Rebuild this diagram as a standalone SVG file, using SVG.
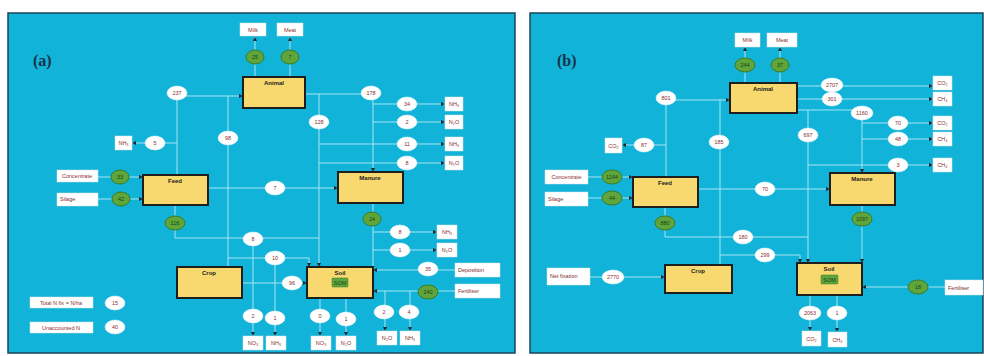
<svg xmlns="http://www.w3.org/2000/svg" width="984" height="356" viewBox="0 0 984 356">
<style>
.frame{fill:#12b3d9;stroke:#1b4459;stroke-width:1.5}
.pool{fill:#f8d96f;stroke:#1e1e1e;stroke-width:2}
.em{fill:#ffffff;stroke:#cfe3e9;stroke-width:.5}
.val{fill:#ffffff;stroke:#e8f4f7;stroke-width:.5}
.g{fill:#5ea63c;stroke:#3b7a26;stroke-width:1}
.som{fill:#5ea63c;stroke:#3b7a26;stroke-width:.5}
.ln{fill:none;stroke:#a6e6f3;stroke-width:1}
.ar{marker-end:url(#arr)}
text{font-family:"Liberation Sans",Arial,sans-serif;text-anchor:middle}
.t{font-size:5.5px;fill:#8a2e2e}
.tb{font-size:6px;fill:#1a1a1a;font-weight:bold}
.tg{font-size:5.5px;fill:#1f3d10}
.tl{font-size:5.5px;fill:#7a2a2a;text-anchor:start}
.pl{font-size:16px;font-weight:bold;fill:#17324a;text-anchor:start;font-family:"Liberation Serif",serif}
</style>
<defs>
<marker id="arr" markerWidth="4" markerHeight="4" refX="4" refY="2" orient="auto" markerUnits="userSpaceOnUse">
<path d="M0,0 L4,2 L0,4 z" fill="#1a2a30"/>
</marker>
</defs>
<rect x="0" y="0" width="984" height="356" fill="#ffffff"/>
<rect class="frame" x="8" y="13" width="507" height="340"/>
<rect class="frame" x="530" y="13" width="453" height="340"/>
<text class="pl" x="33" y="66">(a)</text>
<text class="pl" x="557" y="66">(b)</text>

<g id="connectors-a">
<path class="ln" d="M255,77 V64"/><path class="ln ar" d="M255,50 V37"/>
<path class="ln" d="M290,77 V64"/><path class="ln ar" d="M290,50 V37"/>
<path class="ln ar" d="M177,175 V96 H243"/>
<path class="ln" d="M228,267 V96"/>
<path class="ln ar" d="M177,143 H132"/>
<path class="ln ar" d="M98,177 H143"/>
<path class="ln ar" d="M98,199 H143"/>
<path class="ln" d="M175,205 V238 H319"/>
<path class="ln ar" d="M253,238 V336"/>
<path class="ln ar" d="M208,188 H338"/>
<path class="ln ar" d="M305,94 H373 V172"/>
<path class="ln ar" d="M319,94 V267"/>
<path class="ln ar" d="M373,104 H445"/>
<path class="ln ar" d="M373,122 H445"/>
<path class="ln ar" d="M319,144 H445"/>
<path class="ln ar" d="M319,163 H445"/>
<path class="ln ar" d="M242,283 H307"/>
<path class="ln ar" d="M228,258 H309 V267"/>
<path class="ln ar" d="M275,258 V336"/>
<path class="ln" d="M373,203 V267"/>
<path class="ln ar" d="M373,232 H437"/>
<path class="ln ar" d="M373,250 H437"/>
<path class="ln ar" d="M320,298 V336"/>
<path class="ln ar" d="M346,298 V336"/>
<path class="ln ar" d="M455,270 H373"/>
<path class="ln ar" d="M455,291 H373"/>
<path class="ln ar" d="M385,291 V331"/>
<path class="ln ar" d="M410,291 V331"/>
</g>

<g id="connectors-b">
<path class="ln" d="M745,83 V72"/><path class="ln ar" d="M745,58 V47"/>
<path class="ln" d="M780,83 V72"/><path class="ln ar" d="M780,58 V47"/>
<path class="ln ar" d="M666,177 V100 H730"/>
<path class="ln" d="M720,265 V100"/>
<path class="ln ar" d="M666,145 H622"/>
<path class="ln ar" d="M588,177 H633"/>
<path class="ln ar" d="M588,198 H633"/>
<path class="ln ar" d="M797,86 H933"/>
<path class="ln ar" d="M797,99 H933"/>
<path class="ln ar" d="M797,110 H862 V173"/>
<path class="ln ar" d="M862,123 H933"/>
<path class="ln ar" d="M862,139 H933"/>
<path class="ln ar" d="M808,110 V263"/>
<path class="ln ar" d="M808,165 H933"/>
<path class="ln" d="M665,207 V237 H808"/>
<path class="ln ar" d="M698,189 H830"/>
<path class="ln ar" d="M862,205 V263"/>
<path class="ln ar" d="M720,255 H800 V263"/>
<path class="ln ar" d="M590,277 H665"/>
<path class="ln ar" d="M810,295 V331"/>
<path class="ln ar" d="M837,295 V332"/>
<path class="ln ar" d="M945,287 H862"/>
</g>

<!-- panel a nodes -->
<g id="a-milk"><rect class="em" x="240" y="23" width="26" height="13"/><text class="t" x="253" y="31.5">Milk</text></g>
<g id="a-meat"><rect class="em" x="277" y="23" width="26" height="13"/><text class="t" x="290" y="31.5">Meat</text></g>
<g id="a-milk-v"><ellipse class="g" cx="255" cy="57" rx="9" ry="7"/><text class="tg" x="255" y="59">25</text></g>
<g id="a-meat-v"><ellipse class="g" cx="290" cy="57" rx="9" ry="7"/><text class="tg" x="290" y="59">7</text></g>
<g id="a-animal"><rect class="pool" x="243" y="77" width="62" height="31"/><text class="tb" x="274" y="85">Animal</text></g>
<g id="a-feed"><rect class="pool" x="143" y="175" width="65" height="30"/><text class="tb" x="175" y="183">Feed</text></g>
<g id="a-manure"><rect class="pool" x="338" y="172" width="65" height="31"/><text class="tb" x="370" y="180">Manure</text></g>
<g id="a-crop"><rect class="pool" x="177" y="267" width="65" height="31"/><text class="tb" x="209" y="275">Crop</text></g>
<g id="a-soil"><rect class="pool" x="307" y="267" width="66" height="31"/><text class="tb" x="340" y="275">Soil</text><rect class="som" x="332" y="278" width="16" height="9" rx="1"/><text class="tg" x="340" y="284.5">SOM</text></g>
<g id="a-conc"><rect class="em" x="57" y="170" width="41" height="12"/><text class="t" x="77" y="178">Concentrate</text></g>
<g id="a-silage"><rect class="em" x="57" y="193" width="41" height="13"/><text class="tl" x="60" y="201">Silage</text></g>
<g id="a-conc-v"><ellipse class="g" cx="120" cy="177" rx="9" ry="7"/><text class="tg" x="120" y="179">33</text></g>
<g id="a-silage-v"><ellipse class="g" cx="121" cy="199" rx="9" ry="7"/><text class="tg" x="121" y="201">42</text></g>
<g id="a-feedout"><ellipse class="g" cx="175" cy="223" rx="10" ry="7"/><text class="tg" x="175" y="225">116</text></g>
<g id="a-manout"><ellipse class="g" cx="372" cy="219" rx="9" ry="7"/><text class="tg" x="372" y="221">24</text></g>
<g id="a-intake"><ellipse class="val" cx="177" cy="93" rx="10" ry="7"/><text class="t" x="177" y="95">237</text></g>
<g id="a-graze"><ellipse class="val" cx="228" cy="138" rx="10" ry="7"/><text class="t" x="228" y="140">98</text></g>
<g id="a-nh3f-v"><ellipse class="val" cx="155" cy="143" rx="10" ry="7"/><text class="t" x="155" y="145">5</text></g>
<g id="a-nh3f"><rect class="em" x="115" y="136" width="17" height="14"/><text class="t" x="123.5" y="145">NH₃</text></g>
<g id="a-exc"><ellipse class="val" cx="371" cy="93" rx="10" ry="7"/><text class="t" x="371" y="95">178</text></g>
<g id="a-dung"><ellipse class="val" cx="319" cy="122" rx="10" ry="7"/><text class="t" x="319" y="124">128</text></g>
<g id="a-e1"><ellipse class="val" cx="407" cy="104" rx="10" ry="7"/><text class="t" x="407" y="106">34</text></g>
<g id="a-e2"><ellipse class="val" cx="407" cy="122" rx="10" ry="7"/><text class="t" x="407" y="124">2</text></g>
<g id="a-e3"><ellipse class="val" cx="407" cy="144" rx="10" ry="7"/><text class="t" x="407" y="146">11</text></g>
<g id="a-e4"><ellipse class="val" cx="407" cy="163" rx="10" ry="7"/><text class="t" x="407" y="165">8</text></g>
<g id="a-b1"><rect class="em" x="445" y="97" width="18" height="14"/><text class="t" x="454" y="106">NH₃</text></g>
<g id="a-b2"><rect class="em" x="445" y="115" width="18" height="14"/><text class="t" x="454" y="124">N₂O</text></g>
<g id="a-b3"><rect class="em" x="445" y="137" width="18" height="14"/><text class="t" x="454" y="146">NH₃</text></g>
<g id="a-b4"><rect class="em" x="445" y="156" width="18" height="14"/><text class="t" x="454" y="165">N₂O</text></g>
<g id="a-f2m"><ellipse class="val" cx="275" cy="188" rx="10" ry="7"/><text class="t" x="275" y="190">7</text></g>
<g id="a-m1"><ellipse class="val" cx="400" cy="232" rx="10" ry="7"/><text class="t" x="400" y="234">8</text></g>
<g id="a-m2"><ellipse class="val" cx="400" cy="250" rx="10" ry="7"/><text class="t" x="400" y="252">1</text></g>
<g id="a-mb1"><rect class="em" x="437" y="225" width="20" height="14"/><text class="t" x="447" y="234">NH₃</text></g>
<g id="a-mb2"><rect class="em" x="437" y="243" width="20" height="14"/><text class="t" x="447" y="252">N₂O</text></g>
<g id="a-fl"><ellipse class="val" cx="253" cy="239" rx="10" ry="7"/><text class="t" x="253" y="241">8</text></g>
<g id="a-res"><ellipse class="val" cx="275" cy="258" rx="10" ry="7"/><text class="t" x="275" y="260">10</text></g>
<g id="a-c2s"><ellipse class="val" cx="292" cy="283" rx="10" ry="7"/><text class="t" x="292" y="285">96</text></g>
<g id="a-l1"><ellipse class="val" cx="253" cy="316" rx="10" ry="7"/><text class="t" x="253" y="318">2</text></g>
<g id="a-l2"><ellipse class="val" cx="275" cy="318" rx="10" ry="7"/><text class="t" x="275" y="320">1</text></g>
<g id="a-l3"><ellipse class="val" cx="320" cy="316" rx="10" ry="7"/><text class="t" x="320" y="318">0</text></g>
<g id="a-l4"><ellipse class="val" cx="346" cy="319" rx="10" ry="7"/><text class="t" x="346" y="321">1</text></g>
<g id="a-l5"><ellipse class="val" cx="384" cy="312" rx="10" ry="7"/><text class="t" x="384" y="314">2</text></g>
<g id="a-l6"><ellipse class="val" cx="409" cy="312" rx="10" ry="7"/><text class="t" x="409" y="314">4</text></g>
<g id="a-lb1"><rect class="em" x="243" y="336" width="20" height="14"/><text class="t" x="253" y="345">NO₃</text></g>
<g id="a-lb2"><rect class="em" x="266" y="336" width="20" height="14"/><text class="t" x="276" y="345">NH₃</text></g>
<g id="a-lb3"><rect class="em" x="311" y="336" width="20" height="14"/><text class="t" x="321" y="345">NO₃</text></g>
<g id="a-lb4"><rect class="em" x="336" y="336" width="20" height="14"/><text class="t" x="346" y="345">N₂O</text></g>
<g id="a-lb5"><rect class="em" x="377" y="331" width="20" height="14"/><text class="t" x="387" y="340">N₂O</text></g>
<g id="a-lb6"><rect class="em" x="400" y="331" width="20" height="14"/><text class="t" x="410" y="340">NH₃</text></g>
<g id="a-dep-v"><ellipse class="val" cx="428" cy="269" rx="10" ry="7"/><text class="t" x="428" y="271">35</text></g>
<g id="a-dep"><rect class="em" x="455" y="263" width="45" height="14"/><text class="tl" x="458" y="272">Deposition</text></g>
<g id="a-fert-v"><ellipse class="g" cx="428" cy="292" rx="10" ry="7"/><text class="tg" x="428" y="294">240</text></g>
<g id="a-fert"><rect class="em" x="455" y="284" width="45" height="14"/><text class="tl" x="458" y="293">Fertiliser</text></g>
<g id="a-leg1"><rect class="em" x="30" y="297" width="63" height="11"/><text class="t" x="61" y="304.5">Total N fix = N/ha</text><ellipse class="val" cx="115" cy="303" rx="10" ry="7"/><text class="t" x="115" y="305">15</text></g>
<g id="a-leg2"><rect class="em" x="30" y="322" width="63" height="11"/><text class="t" x="61" y="329.5">Unaccounted N</text><ellipse class="val" cx="115" cy="327" rx="10" ry="7"/><text class="t" x="115" y="329">40</text></g>

<!-- panel b nodes -->
<g id="b-milk"><rect class="em" x="735" y="33" width="25" height="14"/><text class="t" x="747.5" y="42">Milk</text></g>
<g id="b-meat"><rect class="em" x="767" y="33" width="30" height="14"/><text class="t" x="782" y="42">Meat</text></g>
<g id="b-milk-v"><ellipse class="g" cx="745" cy="65" rx="10" ry="7"/><text class="tg" x="745" y="67">244</text></g>
<g id="b-meat-v"><ellipse class="g" cx="780" cy="65" rx="9" ry="7"/><text class="tg" x="780" y="67">37</text></g>
<g id="b-animal"><rect class="pool" x="730" y="83" width="67" height="30"/><text class="tb" x="763" y="91">Animal</text></g>
<g id="b-feed"><rect class="pool" x="633" y="177" width="65" height="30"/><text class="tb" x="665" y="185">Feed</text></g>
<g id="b-manure"><rect class="pool" x="830" y="173" width="65" height="32"/><text class="tb" x="862" y="181">Manure</text></g>
<g id="b-crop"><rect class="pool" x="665" y="265" width="67" height="28"/><text class="tb" x="698" y="273">Crop</text></g>
<g id="b-soil"><rect class="pool" x="797" y="263" width="65" height="32"/><text class="tb" x="829" y="271">Soil</text><rect class="som" x="821" y="275" width="17" height="9" rx="1"/><text class="tg" x="829.5" y="281.5">SOM</text></g>
<g id="b-conc"><rect class="em" x="545" y="170" width="43" height="14"/><text class="t" x="566.5" y="179">Concentrate</text></g>
<g id="b-silage"><rect class="em" x="545" y="192" width="43" height="14"/><text class="tl" x="548" y="201">Silage</text></g>
<g id="b-conc-v"><ellipse class="g" cx="612" cy="177" rx="10" ry="7"/><text class="tg" x="612" y="179">1244</text></g>
<g id="b-silage-v"><ellipse class="g" cx="612" cy="198" rx="10" ry="7"/><text class="tg" x="612" y="200">44</text></g>
<g id="b-feedout"><ellipse class="g" cx="665" cy="223" rx="10" ry="7"/><text class="tg" x="665" y="225">880</text></g>
<g id="b-manout"><ellipse class="g" cx="862" cy="219" rx="10" ry="7"/><text class="tg" x="862" y="221">1097</text></g>
<g id="b-intake"><ellipse class="val" cx="666" cy="98" rx="10" ry="7"/><text class="t" x="666" y="100">801</text></g>
<g id="b-graze"><ellipse class="val" cx="719" cy="142" rx="10" ry="7"/><text class="t" x="719" y="144">185</text></g>
<g id="b-co2f-v"><ellipse class="val" cx="644" cy="145" rx="10" ry="7"/><text class="t" x="644" y="147">87</text></g>
<g id="b-co2f"><rect class="em" x="605" y="138" width="17" height="15"/><text class="t" x="613.5" y="147.5">CO₂</text></g>
<g id="b-a1"><ellipse class="val" cx="832" cy="85" rx="11" ry="7"/><text class="t" x="832" y="87">2707</text></g>
<g id="b-a2"><ellipse class="val" cx="832" cy="99" rx="10" ry="7"/><text class="t" x="832" y="101">301</text></g>
<g id="b-ab1"><rect class="em" x="933" y="76" width="19" height="14"/><text class="t" x="942.5" y="85">CO₂</text></g>
<g id="b-ab2"><rect class="em" x="933" y="92" width="19" height="14"/><text class="t" x="942.5" y="101">CH₄</text></g>
<g id="b-exc"><ellipse class="val" cx="862" cy="113" rx="11" ry="7"/><text class="t" x="862" y="115">1160</text></g>
<g id="b-dung"><ellipse class="val" cx="808" cy="135" rx="10" ry="7"/><text class="t" x="808" y="137">697</text></g>
<g id="b-e1"><ellipse class="val" cx="898" cy="123" rx="10" ry="7"/><text class="t" x="898" y="125">70</text></g>
<g id="b-e2"><ellipse class="val" cx="898" cy="139" rx="10" ry="7"/><text class="t" x="898" y="141">48</text></g>
<g id="b-e3"><ellipse class="val" cx="898" cy="165" rx="10" ry="7"/><text class="t" x="898" y="167">3</text></g>
<g id="b-eb1"><rect class="em" x="933" y="116" width="19" height="14"/><text class="t" x="942.5" y="125">CO₂</text></g>
<g id="b-eb2"><rect class="em" x="933" y="132" width="19" height="14"/><text class="t" x="942.5" y="141">CH₄</text></g>
<g id="b-eb3"><rect class="em" x="933" y="158" width="19" height="14"/><text class="t" x="942.5" y="167">CH₄</text></g>
<g id="b-f2m"><ellipse class="val" cx="765" cy="189" rx="10" ry="7"/><text class="t" x="765" y="191">70</text></g>
<g id="b-fl"><ellipse class="val" cx="743" cy="237" rx="10" ry="7"/><text class="t" x="743" y="239">180</text></g>
<g id="b-res"><ellipse class="val" cx="765" cy="255" rx="10" ry="7"/><text class="t" x="765" y="257">299</text></g>
<g id="b-nf"><rect class="em" x="547" y="268" width="43" height="17"/><text class="tl" x="550" y="278">Net fixation</text></g>
<g id="b-nf-v"><ellipse class="val" cx="613" cy="277" rx="11" ry="7"/><text class="t" x="613" y="279">2770</text></g>
<g id="b-l1"><ellipse class="val" cx="810" cy="313" rx="11" ry="7"/><text class="t" x="810" y="315">2063</text></g>
<g id="b-l2"><ellipse class="val" cx="837" cy="313" rx="10" ry="7"/><text class="t" x="837" y="315">1</text></g>
<g id="b-lb1"><rect class="em" x="802" y="331" width="19" height="15"/><text class="t" x="811.5" y="340.5">CO₂</text></g>
<g id="b-lb2"><rect class="em" x="828" y="332" width="19" height="15"/><text class="t" x="837.5" y="341.5">CH₄</text></g>
<g id="b-fert-v"><ellipse class="g" cx="918" cy="287" rx="10" ry="7"/><text class="tg" x="918" y="289">18</text></g>
<g id="b-fert"><rect class="em" x="945" y="280" width="38" height="15"/><text class="tl" x="948" y="289.5">Fertiliser</text></g>
</svg>
